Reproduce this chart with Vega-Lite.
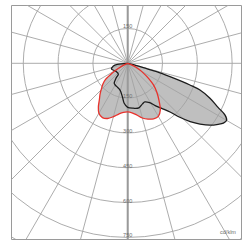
{
  "$schema": "https://vega.github.io/schema/vega-lite/v6.json",
  "width": 230,
  "height": 234,
  "autosize": "none",
  "padding": {"left": 11, "top": 5, "right": 5, "bottom": 1},
  "background": "white",
  "config": {"view": {"stroke": "#9a9a9a", "strokeWidth": 1}},
  "datasets": {
    "red": [
      {"a": -75, "I": 0}, {"a": -68, "I": 12}, {"a": -62, "I": 45}, {"a": -58, "I": 80}, {"a": -54, "I": 118},
      {"a": -50, "I": 140}, {"a": -46, "I": 157}, {"a": -42, "I": 178}, {"a": -38, "I": 198}, {"a": -34, "I": 226},
      {"a": -30, "I": 248}, {"a": -25, "I": 258}, {"a": -20, "I": 253}, {"a": -15, "I": 238}, {"a": -10, "I": 222},
      {"a": -5, "I": 212}, {"a": 0, "I": 209}, {"a": 5, "I": 214}, {"a": 10, "I": 226}, {"a": 15, "I": 244},
      {"a": 20, "I": 256}, {"a": 25, "I": 264}, {"a": 30, "I": 264}, {"a": 35, "I": 245}, {"a": 40, "I": 210},
      {"a": 45, "I": 178}, {"a": 50, "I": 145}, {"a": 54, "I": 112}, {"a": 58, "I": 80}, {"a": 62, "I": 55},
      {"a": 67, "I": 26}, {"a": 75, "I": 0}
    ],
    "black": [
      {"a": -90, "I": 0}, {"a": -84, "I": 45}, {"a": -79, "I": 63}, {"a": -70, "I": 74}, {"a": -60, "I": 64},
      {"a": -52, "I": 60}, {"a": -45, "I": 60}, {"a": -40, "I": 63}, {"a": -38, "I": 82}, {"a": -34, "I": 104},
      {"a": -30, "I": 108}, {"a": -25, "I": 111}, {"a": -16, "I": 120}, {"a": -9, "I": 146}, {"a": -5, "I": 173},
      {"a": 0, "I": 190}, {"a": 7, "I": 195}, {"a": 14, "I": 198}, {"a": 20, "I": 186}, {"a": 24, "I": 182},
      {"a": 29, "I": 194}, {"a": 33, "I": 217}, {"a": 37, "I": 243}, {"a": 41, "I": 278}, {"a": 44, "I": 323},
      {"a": 47, "I": 368}, {"a": 50, "I": 407}, {"a": 53, "I": 443}, {"a": 56, "I": 470}, {"a": 58, "I": 486},
      {"a": 60, "I": 492}, {"a": 62, "I": 475}, {"a": 64, "I": 433}, {"a": 67, "I": 385}, {"a": 69.7, "I": 332},
      {"a": 70.8, "I": 284}, {"a": 72.4, "I": 191}, {"a": 73.8, "I": 130}, {"a": 74.5, "I": 70}, {"a": 78, "I": 25},
      {"a": 85, "I": 0}
    ],
    "spokes": [
      {"a": 0}, {"a": 15}, {"a": 30}, {"a": 45}, {"a": 60}, {"a": 75},
      {"a": 90}, {"a": 105}, {"a": 120}, {"a": 135}, {"a": 150}, {"a": 165}
    ],
    "rings": [
      {"r": 150}, {"r": 300}, {"r": 450}, {"r": 600}, {"r": 750}, {"r": 900}, {"r": 1050}
    ],
    "labels": [
      {"t": "150", "r": 150, "d": 1},
      {"t": "150", "r": 150, "d": -1},
      {"t": "300", "r": 300, "d": -1},
      {"t": "450", "r": 450, "d": -1},
      {"t": "600", "r": 600, "d": -1},
      {"t": "750", "r": 750, "d": -1}
    ]
  },
  "layer": [
    {
      "data": {"name": "black"},
      "transform": [
        {"calculate": "datum.I*sin(datum.a*PI/180)", "as": "px"},
        {"calculate": "-datum.I*cos(datum.a*PI/180)", "as": "py"}
      ],
      "mark": {"type": "line", "fill": "#bfbfbf", "strokeWidth": 0, "interpolate": "catmull-rom"},
      "encoding": {
        "x": {"field": "px", "type": "quantitative", "scale": {"domain": [-502.8, 488.1], "nice": false, "zero": false}, "axis": null},
        "y": {"field": "py", "type": "quantitative", "scale": {"domain": [-757, 251.2], "nice": false, "zero": false}, "axis": null},
        "order": {"field": "a", "type": "quantitative"}
      }
    },
    {
      "data": {"name": "red"},
      "transform": [
        {"calculate": "datum.I*sin(datum.a*PI/180)", "as": "px"},
        {"calculate": "-datum.I*cos(datum.a*PI/180)", "as": "py"}
      ],
      "mark": {"type": "line", "fill": "#bfbfbf", "strokeWidth": 0, "interpolate": "catmull-rom"},
      "encoding": {
        "x": {"field": "px", "type": "quantitative"},
        "y": {"field": "py", "type": "quantitative"},
        "order": {"field": "a", "type": "quantitative"}
      }
    },
    {
      "data": {"name": "rings"},
      "mark": {"type": "point", "shape": "circle", "filled": false, "stroke": "#a3a3a3", "strokeWidth": 0.9, "opacity": 1, "clip": true},
      "encoding": {
        "x": {"datum": 0, "type": "quantitative"},
        "y": {"datum": 0, "type": "quantitative"},
        "size": {"field": "r", "type": "quantitative", "scale": {"type": "pow", "exponent": 2, "domain": [0, 1500], "range": [0, 484788]}, "legend": null}
      }
    },
    {
      "data": {"name": "spokes"},
      "transform": [
        {"calculate": "2000*sin(datum.a*PI/180)", "as": "x1"},
        {"calculate": "-2000*cos(datum.a*PI/180)", "as": "y1"},
        {"calculate": "-2000*sin(datum.a*PI/180)", "as": "x2"},
        {"calculate": "2000*cos(datum.a*PI/180)", "as": "y2"}
      ],
      "mark": {"type": "rule", "stroke": "#a3a3a3", "strokeWidth": 0.9, "clip": true},
      "encoding": {
        "x": {"field": "x1", "type": "quantitative"},
        "y": {"field": "y1", "type": "quantitative"},
        "x2": {"field": "x2"},
        "y2": {"field": "y2"}
      }
    },
    {
      "data": {"name": "spokes"},
      "transform": [
        {"filter": "datum.a == 0"},
        {"calculate": "-2000", "as": "y1"},
        {"calculate": "2000", "as": "y2"},
        {"calculate": "0", "as": "x1"}
      ],
      "mark": {"type": "rule", "stroke": "#9a9a9a", "strokeWidth": 2, "clip": true},
      "encoding": {
        "x": {"field": "x1", "type": "quantitative"},
        "y": {"field": "y1", "type": "quantitative"},
        "y2": {"field": "y2"}
      }
    },
    {
      "data": {"name": "black"},
      "transform": [
        {"calculate": "datum.I*sin(datum.a*PI/180)", "as": "px"},
        {"calculate": "-datum.I*cos(datum.a*PI/180)", "as": "py"}
      ],
      "mark": {"type": "line", "stroke": "#1c1c1c", "strokeWidth": 1.3, "interpolate": "catmull-rom"},
      "encoding": {
        "x": {"field": "px", "type": "quantitative"},
        "y": {"field": "py", "type": "quantitative"},
        "order": {"field": "a", "type": "quantitative"}
      }
    },
    {
      "data": {"name": "red"},
      "transform": [
        {"calculate": "datum.I*sin(datum.a*PI/180)", "as": "px"},
        {"calculate": "-datum.I*cos(datum.a*PI/180)", "as": "py"}
      ],
      "mark": {"type": "line", "stroke": "#e8322c", "strokeWidth": 1.3, "interpolate": "catmull-rom"},
      "encoding": {
        "x": {"field": "px", "type": "quantitative"},
        "y": {"field": "py", "type": "quantitative"},
        "order": {"field": "a", "type": "quantitative"}
      }
    },
    {
      "data": {"name": "labels"},
      "transform": [
        {"calculate": "datum.d*datum.r", "as": "py"},
        {"calculate": "0", "as": "px"}
      ],
      "mark": {"type": "text", "fontSize": 5.5, "font": "Liberation Sans", "fill": "#6e6e6e", "baseline": "middle", "align": "center", "dy": -2},
      "encoding": {
        "x": {"field": "px", "type": "quantitative"},
        "y": {"field": "py", "type": "quantitative"},
        "text": {"field": "t"}
      }
    },
    {
      "data": {"values": [{"t": "cd/klm", "px": 432, "py": -727}]},
      "mark": {"type": "text", "fontSize": 5.5, "font": "Liberation Sans", "fill": "#6e6e6e", "baseline": "middle", "align": "center"},
      "encoding": {
        "x": {"field": "px", "type": "quantitative"},
        "y": {"field": "py", "type": "quantitative"},
        "text": {"field": "t"}
      }
    }
  ]
}
